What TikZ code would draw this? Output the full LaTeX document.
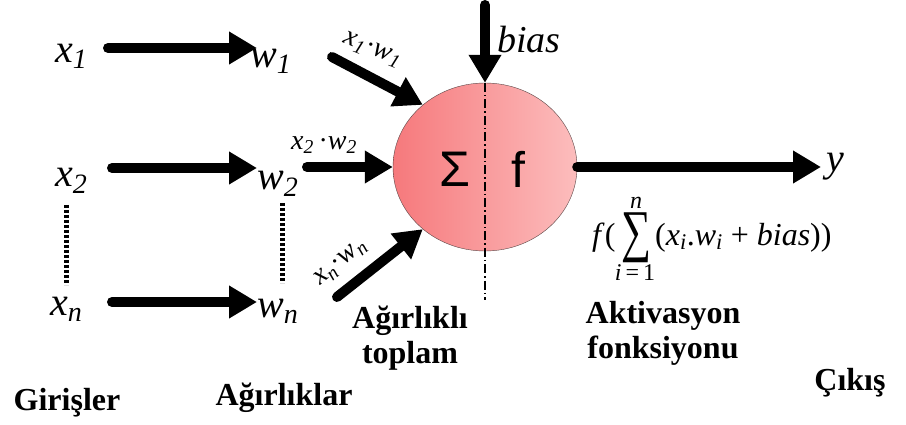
\RequirePackage{fix-cm}
\documentclass[tikz,border=0pt]{standalone}
\usepackage{fontspec}
\usepackage{graphicx}
\setmainfont{Liberation Serif}
\newfontfamily\sansf{Liberation Sans}
\usetikzlibrary{arrows.meta,positioning,shapes.geometric}
\definecolor{Ink}{HTML}{000000}
\definecolor{CellL}{HTML}{F6797C}
\definecolor{CellR}{HTML}{FCBDBD}
\definecolor{Rim}{HTML}{5A4646}
\newcommand{\vsub}[2]{\textit{#1}\textsubscript{\textit{#2}}}

\begin{document}
\begin{tikzpicture}[x=1pt,y=-1pt,
  var/.style={inner sep=0pt,anchor=base west,font=\fontsize{40}{40}\selectfont},
  prod/.style={inner sep=0pt,font=\fontsize{28}{28}\selectfont},
  eqn/.style={inner sep=0pt,font=\fontsize{32}{32}\selectfont},
  lim/.style={inner sep=0pt,font=\fontsize{24}{24}\selectfont},
  caption/.style={inner sep=0pt,align=center,font=\fontsize{32}{35}\selectfont\bfseries},
  heavy/.style={Ink,line width=10pt,line cap=round,-{Triangle[length=28pt,width=31pt]}},
  dotline/.style={Ink,line width=5pt,dash pattern=on 3pt off 2pt}]
  \fill[white] (0,0) rectangle (906,425);
  \useasboundingbox (0,0) rectangle (906,425);
  % inputs and weights
  \node[var] (x1) at (55,63) {\vsub{x}{1}};
  \node[var] (w1) at (250,68) {\vsub{w}{1}};
  \node[var] (x2) at (55,187) {\vsub{x}{2}};
  \node[var] (w2) at (257,190) {\vsub{w}{2}};
  \node[var] (xn) at (50,315) {\vsub{x}{n}};
  \node[var] (wn) at (257,317) {\vsub{w}{n}};
  \draw[heavy] ([xshift=53pt,yshift=15pt]x1.base west) -- ([xshift=7pt,yshift=20pt]w1.base west);
  \draw[heavy] ([xshift=57pt,yshift=19pt]x2.base west) -- ([yshift=22pt]w2.base west);
  \draw[heavy] ([xshift=62pt,yshift=13pt]xn.base west) -- ([yshift=15pt]wn.base west);
  \draw[dotline] ([xshift=11pt,yshift=-18pt]x2.base west) -- ([xshift=16pt,yshift=30pt]xn.base west);
  \draw[dotline] ([xshift=25pt,yshift=-13pt]w2.base west) -- ([xshift=25pt,yshift=34pt]wn.base west);
  % neuron
  \node[ellipse,minimum width=184pt,minimum height=168pt,inner sep=0pt,draw=Rim,
        left color=CellL,right color=CellR] (neuron) at (485,167) {};
  \coordinate (cut) at (485,300);
  \draw[Ink,line width=1.2pt,dash pattern=on 9pt off 3pt on 1.5pt off 3pt] (neuron.north) -- (cut);
  \node[font=\sansf\fontsize{50}{50}\selectfont] (sig) at (455,169) {Σ};
  \node[font=\sansf\fontsize{50}{50}\selectfont] (fn) at (518,169) {f};
  % bias
  \coordinate (btop) at (485,5);
  \draw[heavy] (btop) -- (neuron.north);
  \node[var,font=\fontsize{38}{38}\selectfont] (bias) at (497,53) {\textit{bias}};
  % weighted inputs
  \coordinate (t1) at (332,57);
  \coordinate (t2) at (307,167);
  \coordinate (tn) at (337,297);
  \draw[heavy] (t1) -- (neuron.135);
  \draw[heavy] (t2) -- (neuron.west);
  \draw[heavy] (tn) -- (neuron.225);
  \node[prod,rotate=-22] (p1) at (372,50) {\vsub{x}{1}·\vsub{w}{1}};
  \node[prod] (p2) at (324,145) {\vsub{x}{2}\,·\vsub{w}{2}};
  \node[prod,rotate=40] (pn) at (341,263) {\vsub{x}{n}·\vsub{w}{n}};
  % output
  \node[var,anchor=west] (y) at (826,167) {\textit{y}};
  \draw[heavy,shorten >=5pt] (neuron.east) -- (y.west);
  % activation formula
  \node[eqn,anchor=base west] (fl) at (592,245) {\textit{f}(};
  \node[eqn] (sum) at (636,238) {\resizebox*{30pt}{50pt}{∑}};
  \node[eqn,anchor=base west] (fr) at (655,245)
    {(\vsub{x}{i}.\vsub{w}{i} + \textit{bias}))};
  \node[lim] (up) at (636,203) {\textit{n}};
  \node[lim] (lo) at (635,273) {\textit{i}\,=\,1};
  % captions
  \node[caption] (sumlab) at (410,338) {Ağırlıklı\\toplam};
  \node[caption] (actlab) at (663,333) {Aktivasyon\\fonksiyonu};
  \node[caption,anchor=base] (inlab) at (67,410) {Girişler};
  \node[caption,anchor=base] (wlab) at (284,405) {Ağırlıklar};
  \node[caption,anchor=base] (outlab) at (850,390) {Çıkış};
\end{tikzpicture}
\end{document}
